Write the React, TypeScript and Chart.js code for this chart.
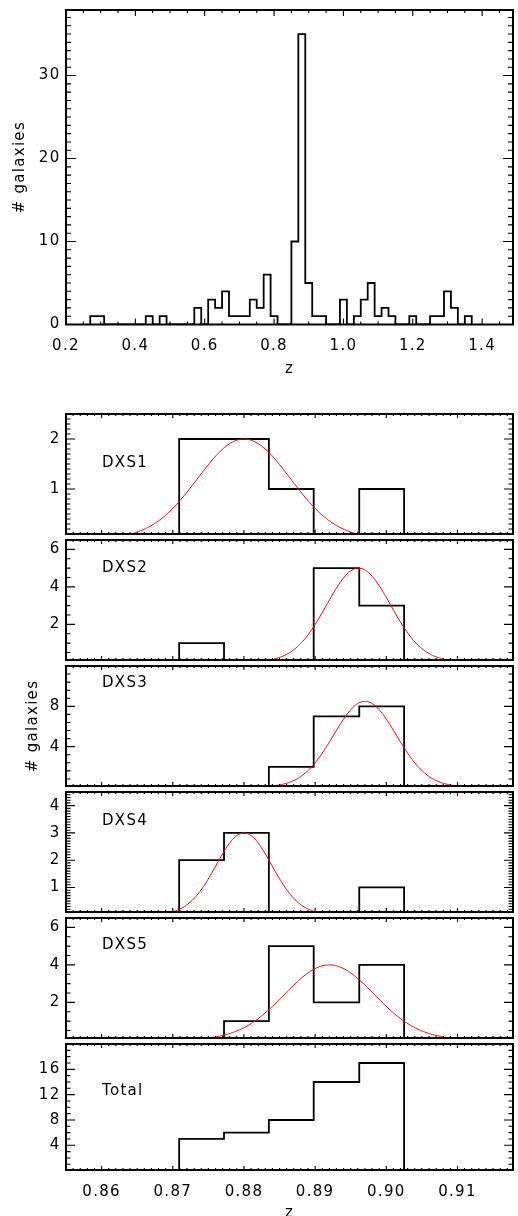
import React, { useEffect, useRef } from "react";
import { Chart, registerables } from "chart.js";

Chart.register(...registerables);

// ---------------- DATA ----------------
// Upper panel: redshift histogram of all galaxies (bins of width 0.02 starting at z = 0.27)
const allZBinStart = 0.27;
const allZBinWidth = 0.02;
const allZCounts = [
  1, 1, 0, 0, 0, 0, 0, 0, 1, 0, 1, 0, 0, 0, 0, 2, 0, 3, 2, 4, 1, 1, 1, 3, 2, 6, 1, 0, 0, 10,
  35, 5, 1, 1, 0, 0, 3, 0, 1, 3, 5, 1, 2, 1, 0, 0, 1, 0, 0, 1, 1, 4, 2, 0, 1,
];
const allZTicks = [0.2, 0.4, 0.6, 0.8, 1.0, 1.2, 1.4];
const allCountTicks = [0, 10, 20, 30];

// Lower panels: per-field histograms around the cluster redshift
const fieldNames = ["DXS1", "DXS2", "DXS3", "DXS4", "DXS5", "Total"];
const fieldBinEdges = [0.8709, 0.8772, 0.8835, 0.8898, 0.8962, 0.9025];
const dxs1Counts = [2, 2, 1, 0, 1];
const dxs2Counts = [1, 0, 0, 5, 3];
const dxs3Counts = [0, 0, 2, 7, 8];
const dxs4Counts = [2, 3, 0, 0, 1];
const dxs5Counts = [0, 1, 5, 2, 4];
const totalCounts = [5, 6, 8, 14, 17];
const fieldCounts = [dxs1Counts, dxs2Counts, dxs3Counts, dxs4Counts, dxs5Counts, totalCounts];

// Gaussian fits (red curves) for DXS1..DXS5
const fitCenters = [0.88, 0.8961, 0.897, 0.88, 0.892];
const fitSigmas = [0.0065, 0.0045, 0.0044, 0.0039, 0.0063];
const fitPeaks = [2.0, 5.0, 8.5, 3.0, 4.0];

const fieldZTicks = [0.86, 0.87, 0.88, 0.89, 0.9, 0.91];
const fieldCountTicks = [[1, 2], [2, 4, 6], [4, 8], [1, 2, 3, 4], [2, 4, 6], [4, 8, 12, 16]];

// ---------------- LAYOUT / STYLE ----------------
const FONT = "'DejaVu Sans', sans-serif";
const FONT_SIZE = 15;
const LETTER_SPACING = "1.3px";
const BLACK = "#000000";
const RED = "#ff0000";
const W = 518;
const PLOT_LEFT = 66;
const PLOT_RIGHT_PAD = 5;

const TOP_X_RANGE = [0.2, 1.489];
const TOP_Y_RANGE = [0, 37.9];
const FIELD_X_RANGE = [0.855, 0.9178];
const FIELD_Y_MIN = 0.1;
const FIELD_Y_MAX = [2.5, 6.5, 12, 4.5, 6.5, 20];
const FIELD_Y_MINOR = [0.1, 0.5, 0.8, 0.1, 0.5, 1];
const FIELD_TOP = 414;
const FIELD_H = 126;
const FIELD_LABEL_DY = [52.7, 32.3, 20.7, 33, 31, 51];

// ---------------- HELPERS ----------------
function stepOutline(edges: number[], counts: number[]) {
  const pts: { x: number; y: number }[] = [{ x: edges[0], y: 0 }];
  counts.forEach((c, i) => {
    pts.push({ x: edges[i], y: c });
    pts.push({ x: edges[i + 1], y: c });
  });
  pts.push({ x: edges[edges.length - 1], y: 0 });
  return pts;
}

function gaussianCurve(mu: number, sigma: number, peak: number, lo: number, hi: number) {
  const n = 400;
  const pts: { x: number; y: number }[] = [];
  for (let i = 0; i <= n; i++) {
    const x = lo + ((hi - lo) * i) / n;
    pts.push({ x, y: peak * Math.exp(-((x - mu) * (x - mu)) / (2 * sigma * sigma)) });
  }
  return pts;
}

// remove Chart.js' automatic label-overflow padding so the plot boxes sit exactly
const noScalePadding = (s: any) => {
  s.paddingTop = 0;
  s.paddingBottom = 0;
  s.paddingLeft = 0;
  s.paddingRight = 0;
};

const idlFrame = {
  id: "idlFrame",
  beforeDraw(chart: any) {
    (chart.ctx as any).letterSpacing = LETTER_SPACING;
  },
  afterDatasetsDraw(chart: any, _args: any, o: any) {
    const { ctx, chartArea: a } = chart;
    const xs = chart.scales.x;
    const ys = chart.scales.y;
    ctx.save();
    ctx.strokeStyle = BLACK;
    ctx.lineWidth = 1.1;
    ctx.beginPath();
    const near = (v: number, arr: number[], step: number) => arr.some((m) => Math.abs(m - v) < step * 0.01);
    const xTick = (v: number, len: number) => {
      const p = xs.getPixelForValue(v);
      if (p < a.left - 0.5 || p > a.right + 0.5) return;
      ctx.moveTo(p, a.bottom);
      ctx.lineTo(p, a.bottom - len);
      ctx.moveTo(p, a.top);
      ctx.lineTo(p, a.top + len);
    };
    const yTick = (v: number, len: number) => {
      const p = ys.getPixelForValue(v);
      if (p < a.top - 0.5 || p > a.bottom + 0.5) return;
      ctx.moveTo(a.left, p);
      ctx.lineTo(a.left + len, p);
      ctx.moveTo(a.right, p);
      ctx.lineTo(a.right - len, p);
    };
    const xmin = xs.min, xmax = xs.max, ymin = ys.min, ymax = ys.max;
    for (let k = Math.ceil(xmin / o.xMinor - 1e-6); k * o.xMinor <= xmax + 1e-9; k++) {
      const v = k * o.xMinor;
      if (!near(v, o.xMajors, o.xMinor)) xTick(v, o.xMinLen);
    }
    o.xMajors.forEach((v: number) => xTick(v, o.xMajLen));
    for (let k = Math.ceil(ymin / o.yMinor - 1e-6); k * o.yMinor <= ymax + 1e-9; k++) {
      const v = k * o.yMinor;
      if (!near(v, o.yMajors, o.yMinor)) yTick(v, o.yMinLen);
    }
    o.yMajors.forEach((v: number) => yTick(v, o.yMajLen));
    ctx.stroke();
    ctx.lineWidth = 2;
    ctx.strokeRect(a.left, a.top, a.right - a.left, a.bottom - a.top);
    if (o.label) {
      ctx.font = `${FONT_SIZE}px ${FONT}`;
      ctx.fillStyle = BLACK;
      ctx.textAlign = "left";
      ctx.textBaseline = "alphabetic";
      ctx.fillText(o.label, a.left + o.labelDx, a.top + o.labelDy);
    }
    ctx.restore();
  },
};

const tickFont = { family: FONT, size: FONT_SIZE };

function topConfig() {
  const edges = allZCounts.concat([0]).map((_, i) => +(allZBinStart + i * allZBinWidth).toFixed(4));
  return {
    type: "line",
    data: {
      datasets: [
        {
          data: stepOutline(edges, allZCounts),
          borderColor: BLACK,
          borderWidth: 1.8,
          pointRadius: 0,
          tension: 0,
          fill: false,
        },
      ],
    },
    options: {
      responsive: false,
      animation: false,
      events: [],
      layout: { autoPadding: false, padding: { top: 10, right: PLOT_RIGHT_PAD, bottom: 0, left: 0 } },
      plugins: {
        legend: { display: false },
        tooltip: { enabled: false },
        idlFrame: {
          xMajors: allZTicks, xMinor: 0.05, xMajLen: 6, xMinLen: 3,
          yMajors: allCountTicks, yMinor: 1, yMajLen: 10, yMinLen: 5,
        },
      },
      scales: {
        x: {
          type: "linear",
          min: TOP_X_RANGE[0],
          max: TOP_X_RANGE[1],
          grid: { display: false, drawTicks: false },
          border: { display: false },
          ticks: { font: tickFont, color: BLACK, padding: 13, maxRotation: 0, callback: (v: any) => Number(v).toFixed(1) },
          title: { display: true, text: "z", font: tickFont, color: BLACK, padding: { top: 0, bottom: 12 } },
          afterBuildTicks: (s: any) => { s.ticks = allZTicks.map((v) => ({ value: v })); },
          afterFit: (s: any) => { s.height = 390 - 324.5; noScalePadding(s); },
        },
        y: {
          type: "linear",
          min: TOP_Y_RANGE[0],
          max: TOP_Y_RANGE[1],
          grid: { display: false, drawTicks: false },
          border: { display: false },
          ticks: { font: tickFont, color: BLACK, padding: 5.5, callback: (v: any) => String(v) },
          title: { display: true, text: "# galaxies", font: tickFont, color: BLACK, padding: { top: 10.8, bottom: 0 } },
          afterBuildTicks: (s: any) => { s.ticks = allCountTicks.map((v) => ({ value: v })); },
          afterFit: (s: any) => { s.width = PLOT_LEFT; noScalePadding(s); },
        },
      },
    },
    plugins: [idlFrame],
  };
}

function fieldConfig(i: number, canvasH: number) {
  const isLast = i === fieldNames.length - 1;
  const datasets: any[] = [];
  if (i < fitCenters.length) {
    datasets.push({
      data: gaussianCurve(fitCenters[i], fitSigmas[i], fitPeaks[i], FIELD_X_RANGE[0], FIELD_X_RANGE[1]),
      borderColor: RED,
      borderWidth: 1,
      pointRadius: 0,
      tension: 0,
      fill: false,
    });
  }
  datasets.push({
    data: stepOutline(fieldBinEdges, fieldCounts[i]),
    borderColor: BLACK,
    borderWidth: 1.8,
    pointRadius: 0,
    tension: 0,
    fill: false,
  });
  return {
    type: "line",
    data: { datasets },
    options: {
      responsive: false,
      animation: false,
      events: [],
      layout: { autoPadding: false, padding: { top: 6, right: PLOT_RIGHT_PAD, bottom: isLast ? 0 : 6, left: 0 } },
      plugins: {
        legend: { display: false },
        tooltip: { enabled: false },
        idlFrame: {
          xMajors: fieldZTicks, xMinor: 0.001, xMajLen: 4, xMinLen: 2,
          yMajors: fieldCountTicks[i], yMinor: FIELD_Y_MINOR[i], yMajLen: 9, yMinLen: 4.5,
          label: fieldNames[i], labelDx: 36, labelDy: FIELD_LABEL_DY[i],
        },
      },
      scales: {
        x: {
          type: "linear",
          display: isLast,
          min: FIELD_X_RANGE[0],
          max: FIELD_X_RANGE[1],
          grid: { display: false, drawTicks: false },
          border: { display: false },
          ticks: { font: tickFont, color: BLACK, padding: 13.5, maxRotation: 0, callback: (v: any) => Number(v).toFixed(2) },
          title: { display: true, text: "z", font: tickFont, color: BLACK, padding: { top: 0, bottom: 16 } },
          afterBuildTicks: (s: any) => { s.ticks = fieldZTicks.map((v) => ({ value: v })); },
          afterFit: (s: any) => { s.height = canvasH - 6 - FIELD_H; noScalePadding(s); },
        },
        y: {
          type: "linear",
          min: FIELD_Y_MIN,
          max: FIELD_Y_MAX[i],
          grid: { display: false, drawTicks: false },
          border: { display: false },
          ticks: { font: tickFont, color: BLACK, padding: 5.5, callback: (v: any) => String(v) },
          title: { display: i === 2, text: "# galaxies", font: tickFont, color: BLACK, padding: { top: 24, bottom: 0 } },
          afterBuildTicks: (s: any) => { s.ticks = fieldCountTicks[i].map((v) => ({ value: v })); },
          afterFit: (s: any) => { s.width = PLOT_LEFT; noScalePadding(s); },
        },
      },
    },
    plugins: [idlFrame],
  };
}

function ChartCanvas({ top, height, make }: { top: number; height: number; make: () => any }) {
  const ref = useRef<HTMLCanvasElement>(null);
  useEffect(() => {
    const chart = new Chart(ref.current as HTMLCanvasElement, make() as any);
    return () => chart.destroy();
  }, []);
  return (
    <canvas
      ref={ref}
      width={W}
      height={height}
      style={{ position: "absolute", left: 0, top, width: W, height, display: "block" }}
    />
  );
}

export default function App() {
  const panels = fieldNames.map((_, i) => {
    const isLast = i === fieldNames.length - 1;
    const top = FIELD_TOP + FIELD_H * i - 6;
    const h = isLast ? 200 : FIELD_H + 12;
    return <ChartCanvas key={i} top={top} height={h} make={() => fieldConfig(i, h)} />;
  });
  return (
    <div
      style={{
        position: "absolute",
        left: 0,
        top: 0,
        width: W,
        height: 1216,
        overflow: "hidden",
        background: "#ffffff",
      }}
    >
      <ChartCanvas top={0} height={390} make={topConfig} />
      {panels}
    </div>
  );
}
